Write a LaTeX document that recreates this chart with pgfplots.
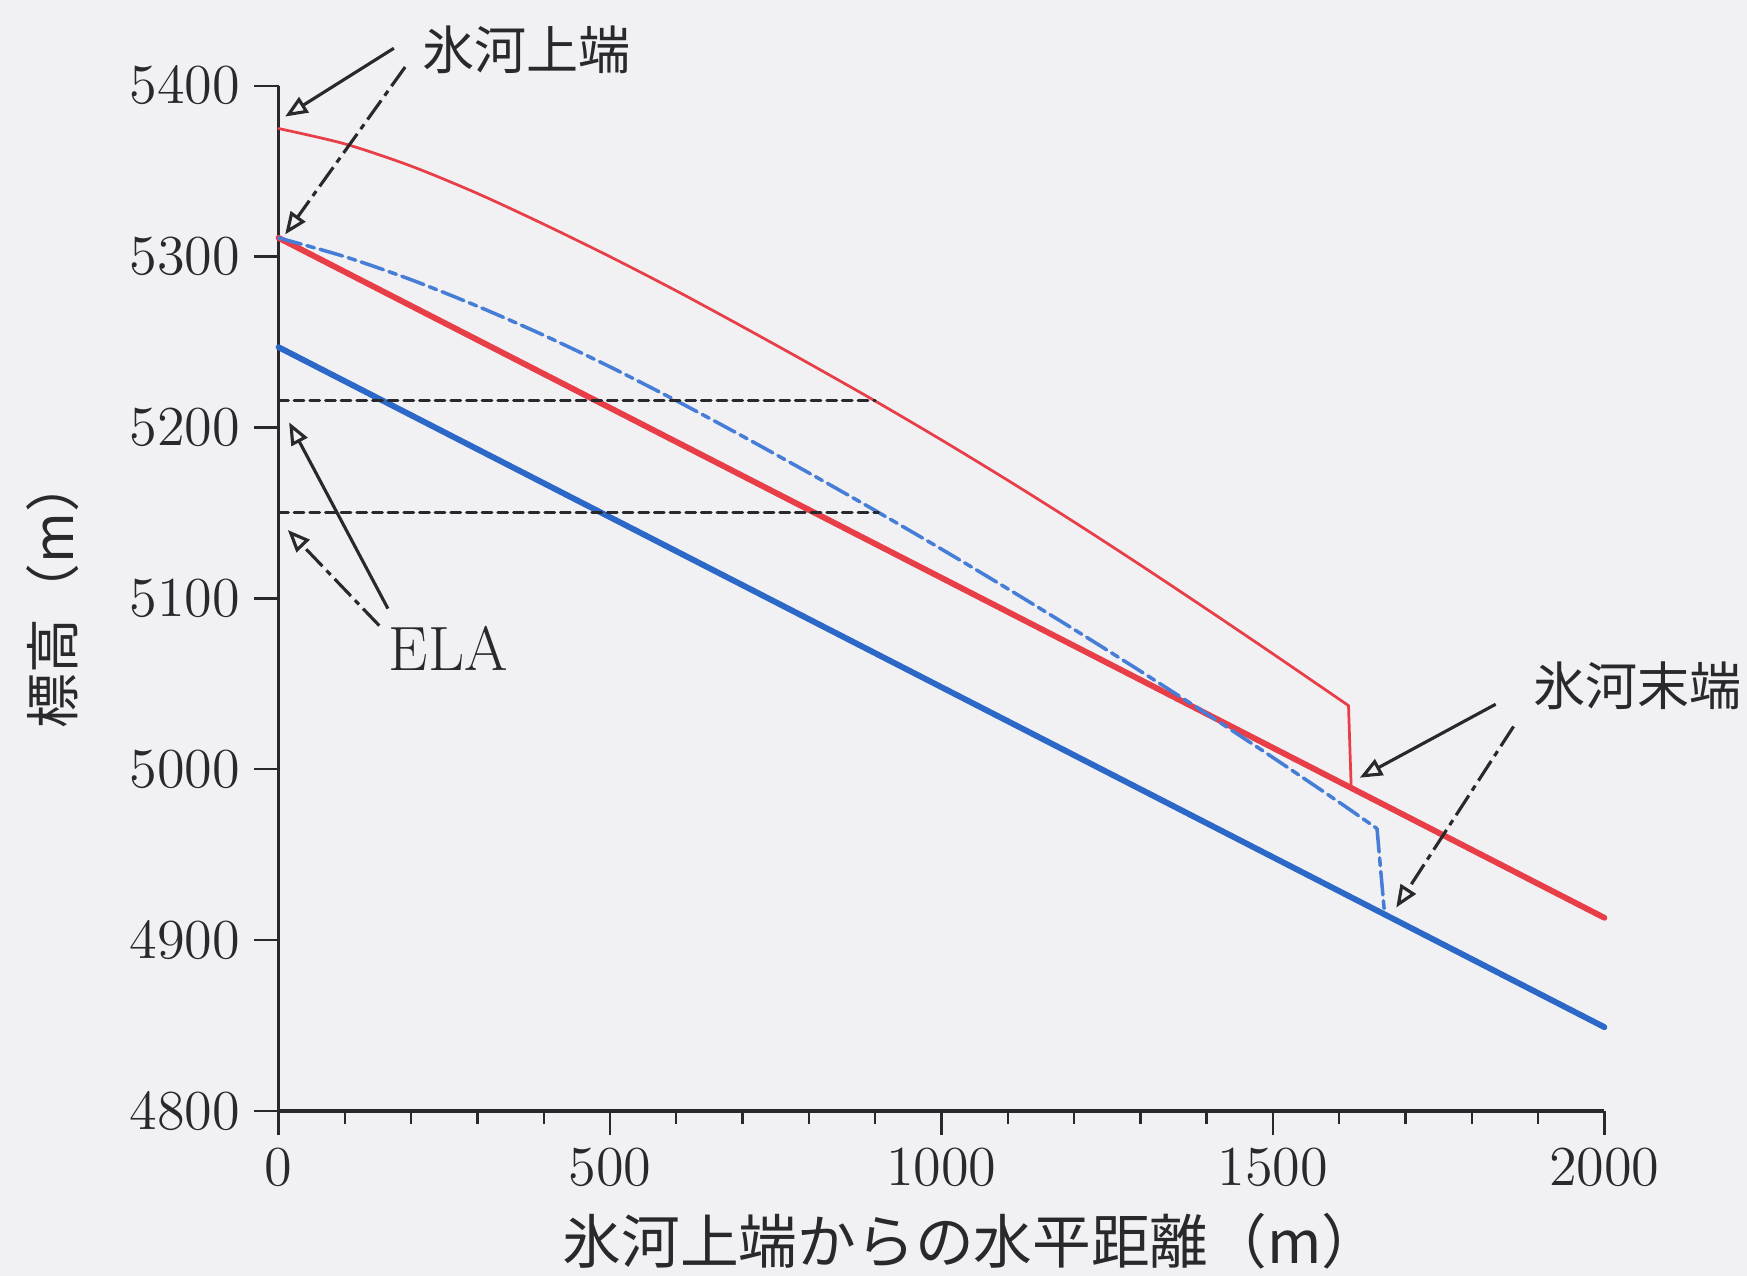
\documentclass[border=0pt]{standalone}
\usepackage{fontspec}
\usepackage{pgfplots}
\pgfplotsset{compat=1.18}
\usetikzlibrary{arrows.meta}
\newfontfamily\jp{Noto Sans CJK JP}
\definecolor{bedred}{RGB}{232,62,72}
\definecolor{bedblue}{RGB}{44,104,200}
\definecolor{dashblue}{RGB}{70,125,215}
\definecolor{bg}{RGB}{241,240,243}
\definecolor{ink}{RGB}{40,40,45}

\begin{document}
\begin{tikzpicture}
\useasboundingbox (-2.5,-1.48) rectangle (13.18,9.97);
\fill[bg] (-2.5,-1.48) rectangle (13.18,9.97);
\begin{axis}[
  at={(0,0)}, anchor=south west,
  scale only axis, width=11.9cm, height=9.2cm,
  xmin=0, xmax=2000, ymin=4800, ymax=5400,
  axis lines=left, axis line style={-, line width=1pt, ink},
  clip=false,
  xtick={0,500,...,2000}, ytick={4800,4900,...,5400},
  minor x tick num=4,
  tick align=outside,
  major tick length=0.22cm, minor tick length=0.12cm,
  tick style={ink, line width=0.6pt},
  /pgf/number format/1000 sep={},
  scaled ticks=false,
  every tick label/.append style={font=\fontsize{15.5}{18}\selectfont, text=ink},
  xlabel={\jp 氷河上端からの水平距離（m）},
  xlabel style={at={(axis description cs:0.5227,0)}, anchor=center, yshift=-1.17cm, font=\fontsize{15}{18}\selectfont, text=ink},
  ylabel={\jp 標高（m）},
  ylabel style={at={(axis description cs:-0.1706,0.505)}, anchor=center, font=\fontsize{14}{17}\selectfont, text=ink},
  every axis plot/.append style={line join=round, line cap=round},
]
% bed profiles
\addplot[bedred, line width=1.5pt] coordinates {(0,5311) (2000,4913)};
\addplot[bedblue, line width=1.5pt] coordinates {(0,5247) (2000,4849)};
% glacier surface (red)
\addplot[bedred, line width=0.7pt, smooth, tension=0.5] coordinates {
 (0,5375) (100,5366) (200,5353) (300,5337) (400,5319) (500,5300)
 (600,5280) (700,5259) (800,5237.5) (900,5215.5) (1000,5192.7) (1100,5169.1)
 (1200,5144.7) (1300,5119.5) (1400,5093.7) (1500,5067.5) (1614,5037.2)};
\addplot[bedred, line width=0.7pt] coordinates {(1614,5037.2) (1618,4990)};
% glacier surface (blue, dashed)
\addplot[dashblue, line width=0.9pt, smooth, tension=0.5, dash pattern=on 6pt off 1.5pt on 2pt off 1.5pt] coordinates {
 (0,5311) (100,5300) (200,5286.5) (300,5271) (400,5254) (500,5235.5)
 (600,5215.7) (700,5194.9) (800,5173.4) (900,5151.4) (1000,5128.8) (1100,5105.6)
 (1200,5081.8) (1300,5057.4) (1400,5032.4) (1500,5006.8) (1600,4980.6) (1657,4965.2)};
\addplot[dashblue, line width=0.9pt, dash pattern=on 6pt off 1.5pt on 2pt off 1.5pt] coordinates {(1657,4965.2) (1668,4917)};
% ELA lines
\addplot[ink, line width=0.75pt, dash pattern=on 2.5pt off 1.5pt] coordinates {(0,5216) (900,5216)};
\addplot[ink, line width=0.75pt, dash pattern=on 2.5pt off 1.5pt] coordinates {(0,5150) (905,5150)};

% annotations
\tikzset{ann/.style={ink, line width=0.8pt, -{Triangle[open, length=0.2cm, width=0.16cm]}},
         anndash/.style={ann, dash pattern=on 6pt off 1.5pt on 1.5pt off 1.5pt}}
\draw[ann] (axis cs:174,5422) -- (axis cs:10,5382);
\draw[anndash] (axis cs:191,5411) -- (axis cs:10,5313);
\node[anchor=west, inner sep=0, text=ink, font={\jp\fontsize{13.3}{16}\selectfont}] at (axis cs:216,5421) {氷河上端};

\draw[ann] (axis cs:165,5094) -- (axis cs:16,5203);
\draw[anndash] (axis cs:152,5084) -- (axis cs:14,5140);
\node[inner sep=0, text=ink, font=\fontsize{16}{19}\selectfont] at (axis cs:256,5071) {ELA};

\draw[ann] (axis cs:1836,5038) -- (axis cs:1631,4995);
\draw[anndash] (axis cs:1863,5025) -- (axis cs:1686,4919);
\node[inner sep=0, text=ink, font={\jp\fontsize{13.3}{16}\selectfont}] at (axis cs:2050,5049) {氷河末端};
\end{axis}
\end{tikzpicture}
\end{document}
